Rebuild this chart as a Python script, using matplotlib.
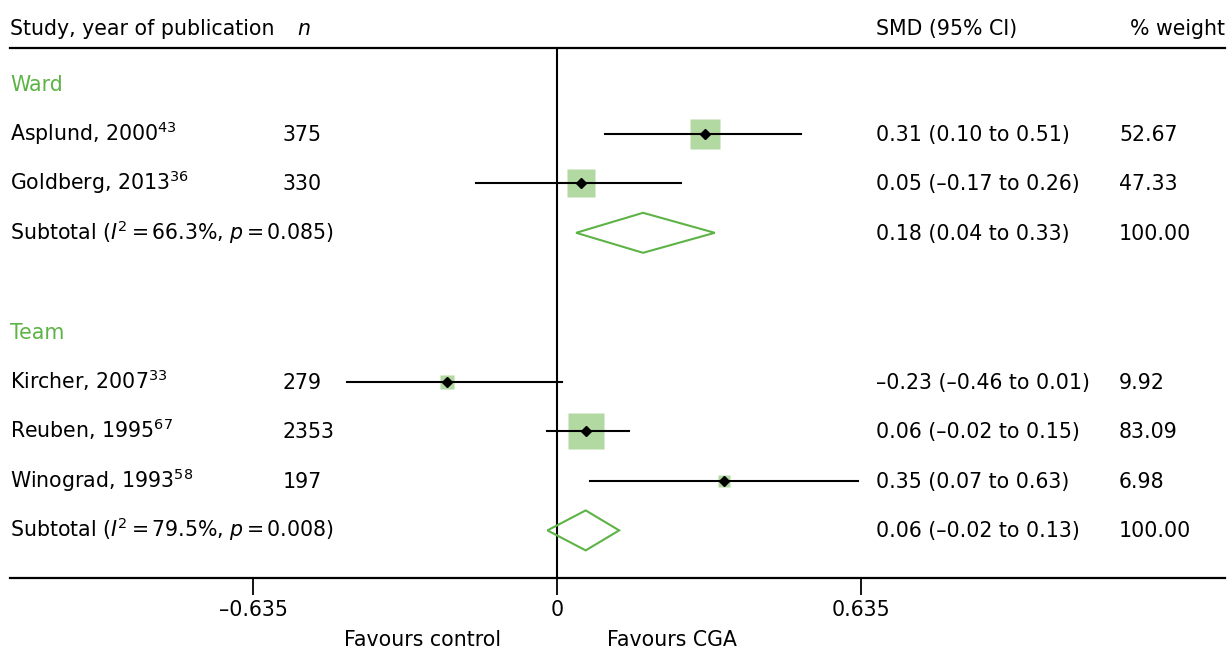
import numpy as np
import matplotlib.pyplot as plt
from matplotlib.transforms import blended_transform_factory

# ---- data ----
studies = ["Asplund, 2000$^{43}$", "Goldberg, 2013$^{36}$",
           "Kircher, 2007$^{33}$", "Reuben, 1995$^{67}$", "Winograd, 1993$^{58}$"]
n_vals = ["375", "330", "279", "2353", "197"]
smd = [0.31, 0.05, -0.23, 0.06, 0.35]
ci_lo = [0.10, -0.17, -0.44, -0.02, 0.07]
ci_hi = [0.51, 0.26, 0.01, 0.15, 0.63]
weights = [52.67, 47.33, 9.92, 83.09, 6.98]
smd_text = ["0.31 (0.10 to 0.51)", "0.05 (\u20130.17 to 0.26)", "\u20130.23 (\u20130.46 to 0.01)",
            "0.06 (\u20130.02 to 0.15)", "0.35 (0.07 to 0.63)"]
weight_text = ["52.67", "47.33", "9.92", "83.09", "6.98"]
study_rows = [1, 2, 6, 7, 8]

groups = ["Ward", "Team"]
group_rows = [0, 5]
sub_labels = ["Subtotal ($\\mathit{I}^2\\,$=$\\,$66.3%, $\\mathit{p}\\,$=$\\,$0.085)",
              "Subtotal ($\\mathit{I}^2\\,$=$\\,$79.5%, $\\mathit{p}\\,$=$\\,$0.008)"]
sub_est = [0.18, 0.06]
sub_lo = [0.04, -0.02]
sub_hi = [0.33, 0.13]
sub_text = ["0.18 (0.04 to 0.33)", "0.06 (\u20130.02 to 0.13)"]
sub_rows = [3, 9]

ticks = [-0.635, 0, 0.635]
tick_labels = ["\u20130.635", "0", "0.635"]

green = "#5db346"
box_green = "#b3d9a3"

plt.rcParams['font.family'] = ['DejaVu Sans']
plt.rcParams['mathtext.fontset'] = 'dejavusans'
FS = 14.8

W, H = 1229, 653
fig = plt.figure(figsize=(W / 100, H / 100), dpi=100)
ax = fig.add_axes([10 / W, (H - 578) / H, (1225 - 10) / W, (578 - 48) / H])

# x: 0 at px 557, 478 px per unit ; y: row 0 at px 84, 49.6 px per row
ax.set_xlim((10 - 557) / 478, (1225 - 557) / 478)
ax.set_ylim((578 - 84) / 49.6, (48 - 84) / 49.6)

for s in ["left", "right"]:
    ax.spines[s].set_visible(False)
ax.spines["top"].set_linewidth(1.6)
ax.spines["bottom"].set_linewidth(1.6)
ax.set_yticks([])
ax.set_xticks(ticks)
ax.set_xticklabels(tick_labels, fontsize=FS)
ax.tick_params(axis="x", direction="out", length=12, width=1.3, pad=4)

ax.axvline(0, color="black", lw=1.5, zorder=1)

# studies; box side grows with sqrt(weight)
for i in range(len(smd)):
    y = study_rows[i]
    side_px = 2.2 + 3.7 * np.sqrt(weights[i])
    ax.plot([ci_lo[i], ci_hi[i]], [y, y], color="black", lw=1.5, zorder=3)
    ax.plot(smd[i], y, marker="s", ms=side_px * 0.72, color=box_green,
            mec="none", zorder=2)
    ax.plot(smd[i], y, marker="D", ms=5.5, color="black", zorder=4)

# subtotal diamonds
h = 20 / 49.6
for i in range(len(sub_est)):
    y = sub_rows[i]
    ax.fill([sub_lo[i], sub_est[i], sub_hi[i], sub_est[i]], [y, y - h, y, y + h],
            facecolor="none", edgecolor=green, lw=1.5, zorder=3)

# text columns (baseline sits ~7 px below row centre)
tr = blended_transform_factory(fig.transFigure, ax.transData)
x_name, x_n, x_smd, x_w = 10 / W, 283 / W, 876 / W, 1119 / W
bl = 7 / 49.6


def put(x, y, s, **kw):
    ax.text(x, y + bl, s, transform=tr, fontsize=FS, va="baseline", **kw)


hy = (28 - 84) / 49.6
put(x_name, hy, "Study, year of publication")
put(297 / W, hy, "n", style="italic")
put(x_smd, hy, "SMD (95% CI)")
put(1225 / W, hy, "% weight", ha="right")

for g, y in zip(groups, group_rows):
    put(x_name, y, g, color=green)

for i in range(len(studies)):
    y = study_rows[i]
    put(x_name, y, studies[i])
    put(x_n, y, n_vals[i])
    put(x_smd, y, smd_text[i])
    put(x_w, y, weight_text[i])

for i in range(len(sub_est)):
    y = sub_rows[i]
    put(x_name, y, sub_labels[i])
    put(x_smd, y, sub_text[i])
    put(x_w, y, "100.00")

fig.text(423 / W, 1 - 640 / H, "Favours control", fontsize=FS, ha="center", va="center")
fig.text(672 / W, 1 - 640 / H, "Favours CGA", fontsize=FS, ha="center", va="center")

fig.savefig("out.png", dpi=100)
